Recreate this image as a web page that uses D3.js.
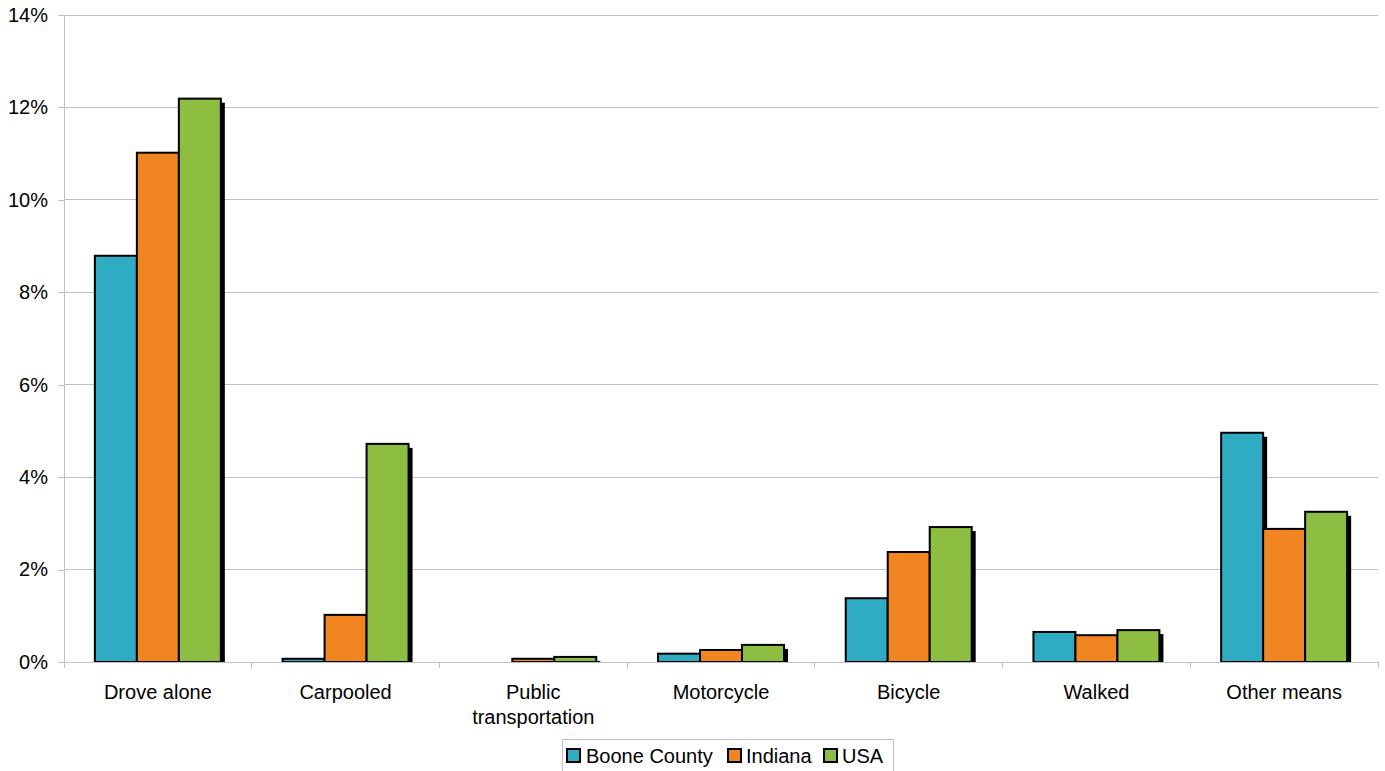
<!DOCTYPE html>
<html>
<head>
<meta charset="utf-8">
<script src="https://cdn.jsdelivr.net/npm/d3@7"></script>
<style>
  html, body { margin: 0; padding: 0; background: #fff; }
  svg { display: block; font-family: "Liberation Sans", Arial, sans-serif; }
</style>
</head>
<body>
<svg id="chart" width="1385" height="771"></svg>
<script>
// Means of transportation to work, share of workers (%)
const categories = ["Drove alone", "Carpooled", "Public transportation", "Motorcycle", "Bicycle", "Walked", "Other means"];
const seriesNames = ["Boone County", "Indiana", "USA"];
const booneCounty = [8.79, 0.07, 0, 0.18, 1.38, 0.65, 4.96];
const indiana     = [11.02, 1.02, 0.07, 0.26, 2.38, 0.58, 2.88];
const usa         = [12.19, 4.72, 0.11, 0.37, 2.92, 0.69, 3.25];
const yTicks = [0, 2, 4, 6, 8, 10, 12, 14];
const colors = ["#2fabc4", "#f18522", "#8ebe41"];

const seriesValues = [booneCounty, indiana, usa];

const svg = d3.select("#chart");
const margin = { left: 64, right: 7, top: 15, bottom: 109 };
const W = 1385, H = 771;

const x0 = d3.scaleBand().domain(categories).range([margin.left, W - margin.right]).padding(0);
const x1 = d3.scaleBand().domain(seriesNames).range([0, x0.bandwidth()]).paddingInner(0).paddingOuter(0.735);
const y = d3.scaleLinear().domain([0, 14]).range([H - margin.bottom, margin.top]);

// gridlines
svg.append("g")
  .selectAll("line")
  .data(yTicks.filter(t => t > 0))
  .join("line")
  .attr("x1", margin.left).attr("x2", W - margin.right)
  .attr("y1", d => y(d)).attr("y2", d => y(d))
  .attr("stroke", "#c0c0c0").attr("stroke-width", 1).attr("shape-rendering", "crispEdges");

// y axis
const yAxis = svg.append("g")
  .attr("transform", `translate(${margin.left},0)`)
  .call(d3.axisLeft(y).tickValues(yTicks).tickFormat(d => d + "%").tickSize(6).tickSizeOuter(0).tickPadding(10));
yAxis.select(".domain").attr("stroke", "#c0c0c0").attr("shape-rendering", "crispEdges");
yAxis.selectAll(".tick line").attr("stroke", "#c0c0c0").attr("shape-rendering", "crispEdges");
yAxis.selectAll(".tick text").attr("font-size", 20).attr("fill", "#000")
  .attr("font-family", "'Liberation Sans', Arial, sans-serif");

// bars data
const bars = [];
categories.forEach((c, i) => {
  seriesNames.forEach((s, j) => {
    const v = seriesValues[j][i];
    if (v > 0) bars.push({ cat: c, series: s, value: v, color: colors[j] });
  });
});

// clip shadows at the baseline
svg.append("clipPath").attr("id", "plotClip")
  .append("rect").attr("x", margin.left).attr("y", 0)
  .attr("width", W - margin.left).attr("height", y(0));

const off = 4;
svg.append("g").attr("clip-path", "url(#plotClip)")
  .selectAll("rect")
  .data(bars)
  .join("rect")
  .attr("x", d => x0(d.cat) + x1(d.series) + off)
  .attr("y", d => y(d.value) + off)
  .attr("width", x1.bandwidth())
  .attr("height", d => Math.max(0, y(0) - y(d.value)))
  .attr("fill", "#000");

svg.append("g")
  .selectAll("rect")
  .data(bars)
  .join("rect")
  .attr("x", d => x0(d.cat) + x1(d.series))
  .attr("y", d => y(d.value))
  .attr("width", x1.bandwidth())
  .attr("height", d => y(0) - y(d.value))
  .attr("fill", d => d.color)
  .attr("stroke", "#000")
  .attr("stroke-width", 2);

// x axis baseline & ticks
const xAxisG = svg.append("g");
xAxisG.append("line")
  .attr("x1", margin.left - 6).attr("x2", W - margin.right)
  .attr("y1", y(0)).attr("y2", y(0))
  .attr("stroke", "#c0c0c0").attr("shape-rendering", "crispEdges");
const tickXs = categories.map(c => x0(c)).concat([x0.range()[1]]);
xAxisG.selectAll("line.tick")
  .data(tickXs)
  .join("line")
  .attr("class", "tick")
  .attr("x1", d => d).attr("x2", d => d)
  .attr("y1", y(0)).attr("y2", y(0) + 6)
  .attr("stroke", "#c0c0c0").attr("shape-rendering", "crispEdges");

// category labels
const labelLines = { "Public transportation": ["Public", "transportation"] };
const labels = xAxisG.selectAll("text.cat")
  .data(categories)
  .join("text")
  .attr("class", "cat")
  .attr("x", d => x0(d) + x0.bandwidth() / 2)
  .attr("y", y(0) + 37)
  .attr("text-anchor", "middle")
  .attr("font-size", 20)
  .attr("fill", "#000");
labels.each(function(d) {
  const lines = labelLines[d] || [d];
  const t = d3.select(this);
  lines.forEach((ln, k) => {
    t.append("tspan").attr("x", x0(d) + x0.bandwidth() / 2).attr("dy", k === 0 ? 0 : 25).text(ln);
  });
});

// legend
const legend = svg.append("g");
legend.append("rect")
  .attr("x", 562.5).attr("y", 739.5).attr("width", 331).attr("height", 36)
  .attr("fill", "#fff").attr("stroke", "#c0c0c0");
const legendItems = [
  { name: seriesNames[0], sx: 567, tx: 586 },
  { name: seriesNames[1], sx: 728, tx: 746 },
  { name: seriesNames[2], sx: 824, tx: 842 }
];
legendItems.forEach((it, i) => {
  legend.append("rect")
    .attr("x", it.sx).attr("y", 749).attr("width", 13).attr("height", 13)
    .attr("fill", colors[i]).attr("stroke", "#000").attr("stroke-width", 2);
  legend.append("text")
    .attr("x", it.tx).attr("y", 763)
    .attr("font-size", 20).attr("fill", "#000")
    .text(it.name);
});
</script>
</body>
</html>
